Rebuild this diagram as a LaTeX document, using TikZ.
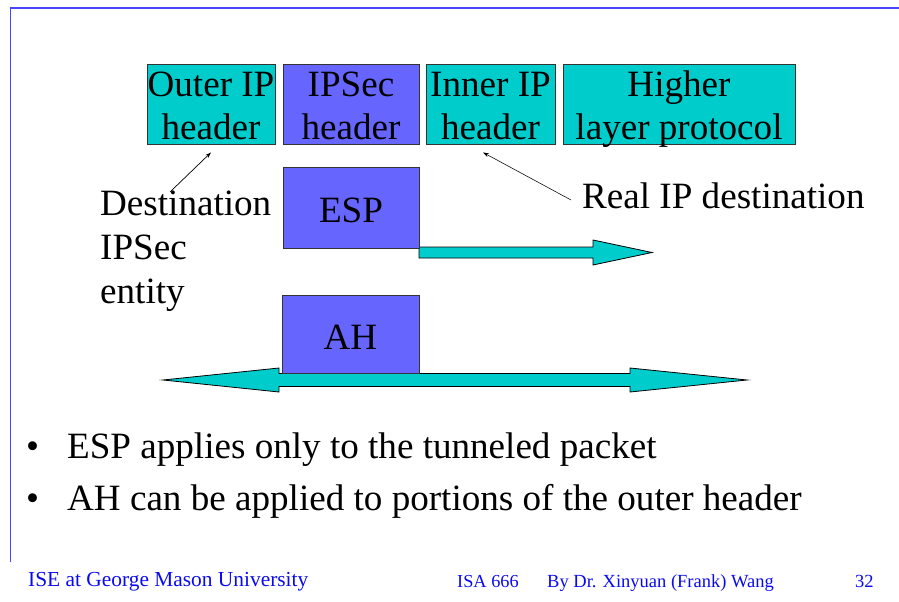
\documentclass[tikz,border=0pt]{standalone}
\usepackage{fontspec}
\setmainfont{Liberation Serif}
\usetikzlibrary{arrows.meta}

\definecolor{hdrcyan}{RGB}{0,204,204}
\definecolor{hdrblue}{RGB}{102,102,255}
\definecolor{frameblue}{RGB}{70,70,255}
\definecolor{footblue}{RGB}{10,10,240}

\tikzset{
  cyanbox/.style={draw=black!80, line width=0.9pt, fill=hdrcyan, inner sep=0pt},
  bluebox/.style={draw=black!80, line width=0.9pt, fill=hdrblue, inner sep=0pt},
  big/.style={font=\fontsize{37.1}{43}\selectfont, inner sep=0pt},
  lbl/.style={big, anchor=base},
  lblw/.style={big, anchor=base west},
  foot/.style={text=footblue, anchor=base west, inner sep=0pt},
  fatarrow/.style={draw=black, line width=0.8pt, fill=hdrcyan, line join=miter},
  pointer/.style={draw=black, line width=0.7pt, -{Stealth[length=6pt,width=4pt]}}
}

\begin{document}
\begin{tikzpicture}[x=1pt, y=-1pt]
  \useasboundingbox (0,0) rectangle (899,602);

  % slide frame
  \draw[frameblue, line width=1.2pt] (10.5,562) -- (10.5,8) -- (899,8);

  % packet layout
  \node[cyanbox, minimum width=128pt, minimum height=80pt] (outer) at (211,104) {};
  \node[bluebox, minimum width=136pt, minimum height=80pt] (ipsec) at (351,104) {};
  \node[cyanbox, minimum width=129pt, minimum height=80pt] (inner) at (490.5,104) {};
  \node[cyanbox, minimum width=232pt, minimum height=80pt] (higher) at (679,104) {};

  \node[lbl] (outer1) at (211,96) {Outer IP};
  \node[lbl] (outer2) at (211,139) {header};
  \node[lbl] (ipsec1) at (351,96) {IPSec};
  \node[lbl] (ipsec2) at (351,139) {header};
  \node[lbl] (inner1) at (490.5,96) {Inner IP};
  \node[lbl] (inner2) at (490.5,139) {header};
  \node[lbl] (higher1) at (679,96) {Higher};
  \node[lbl] (higher2) at (679,139) {layer protocol};

  % ESP coverage
  \fill[fatarrow] (419,247) -- (593,247) -- (593,240) -- (652,252.5) -- (593,265)
    -- (593,258) -- (419,258) -- cycle;
  \node[bluebox, minimum width=136pt, minimum height=81pt] (esp) at (351,207.5) {};
  \node[lbl] (esptext) at (351,222) {ESP};

  % AH coverage
  \fill[fatarrow] (163,380) -- (279,368) -- (279,373.5) -- (630,373.5) -- (630,368)
    -- (747,380) -- (630,392) -- (630,386.5) -- (279,386.5) -- (279,392) -- cycle;
  \node[bluebox, minimum width=137pt, minimum height=78pt] (ah) at (350.5,334) {};
  \node[lbl] (ahtext) at (350.5,349) {AH};

  % annotations
  \node[lblw] (dest1) at (100,215) {Destination};
  \node[lblw] (dest2) at (100,259) {IPSec};
  \node[lblw] (dest3) at (100,303) {entity};
  \node[lblw] (real) at (582,208) {Real IP destination};

  \coordinate (destfrom) at (170,192);
  \coordinate (realfrom) at (571,200);
  \draw[pointer] (destfrom) -- ([yshift=-8pt]outer.south);
  \draw[pointer, line width=0.55pt] (realfrom) -- ([xshift=-7.5pt,yshift=-8pt]inner.south);

  % bullet points
  \node[lblw] (b1) at (26,458) {\symbol{"2022}};
  \node[lblw] (t1) at (67,458) {ESP applies only to the tunneled packet};
  \node[lblw] (b2) at (26,510) {\symbol{"2022}};
  \node[lblw] (t2) at (67,510) {AH can be applied to portions of the outer header};

  % footer
  \node[foot, font=\fontsize{21.4}{24}\selectfont] (f1) at (28,586) {ISE at George Mason University};
  \node[foot, font=\fontsize{18.3}{22}\selectfont] (f2) at (457,587) {ISA 666};
  \node[foot, font=\fontsize{18.5}{22}\selectfont] (f3) at (547,587) {By Dr. Xinyuan (Frank) Wang};
  \node[foot, font=\fontsize{18.5}{22}\selectfont] (f4) at (855,587) {32};
\end{tikzpicture}
\end{document}
